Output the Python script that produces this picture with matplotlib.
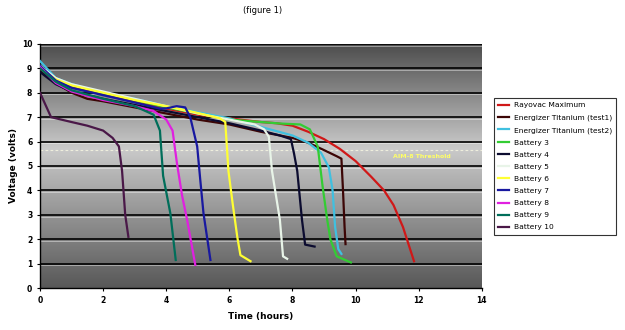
import numpy as np
import matplotlib
matplotlib.use("Agg")
import matplotlib.pyplot as plt
from matplotlib.colors import LinearSegmentedColormap

# --- data (time in hours, voltage in volts) ---
rayovac_t = [0, 0.5, 1, 2, 3, 4, 5, 6, 7, 7.5, 8, 8.5, 9, 9.5, 10, 10.5, 10.9, 11.2, 11.5, 11.85]
rayovac_v = [9.0, 8.5, 8.25, 7.95, 7.65, 7.35, 7.1, 6.95, 6.8, 6.75, 6.65, 6.4, 6.1, 5.7, 5.2, 4.55, 4.0, 3.4, 2.5, 1.1]

ener1_t = [0, 0.5, 1, 1.5, 2, 3, 4, 5, 6, 7, 8, 8.5, 9, 9.4, 9.55, 9.6, 9.65, 9.68]
ener1_v = [8.9, 8.4, 8.0, 7.75, 7.65, 7.4, 7.15, 6.9, 6.7, 6.4, 6.15, 5.95, 5.65, 5.4, 5.3, 4.0, 2.5, 1.8]

ener2_t = [0, 0.5, 1, 2, 3, 4, 5, 6, 7, 8, 8.5, 8.9, 9.15, 9.27, 9.35, 9.45, 9.55]
ener2_v = [9.3, 8.6, 8.35, 8.0, 7.75, 7.45, 7.2, 6.95, 6.6, 6.25, 5.95, 5.55, 4.95, 4.0, 2.5, 1.6, 1.4]

b3_t = [0, 0.5, 1, 2, 3, 4, 5, 6, 7, 7.6, 8.25, 8.55, 8.8, 8.95, 9.1, 9.2, 9.4, 9.85]
b3_v = [9.0, 8.55, 8.3, 8.0, 7.7, 7.4, 7.15, 6.9, 6.8, 6.74, 6.7, 6.5, 5.8, 4.2, 2.8, 2.0, 1.3, 1.05]

b4_t = [0, 0.5, 1, 2, 3, 4, 5, 6, 7, 7.6, 7.95, 8.05, 8.15, 8.3, 8.4, 8.7]
b4_v = [8.85, 8.35, 8.05, 7.75, 7.5, 7.25, 7.0, 6.75, 6.45, 6.25, 6.1, 5.5, 4.8, 2.8, 1.78, 1.7]

b5_t = [0, 0.5, 1, 2, 3, 4, 5, 6, 6.8, 7.1, 7.25, 7.35, 7.6, 7.7, 7.83]
b5_v = [9.1, 8.6, 8.35, 8.05, 7.75, 7.45, 7.15, 6.9, 6.7, 6.5, 6.2, 4.8, 2.8, 1.3, 1.2]

b6_t = [0, 0.5, 1, 2, 3, 4, 4.9, 5.7, 5.87, 5.97, 6.1, 6.25, 6.35, 6.67]
b6_v = [9.0, 8.55, 8.3, 8.0, 7.7, 7.45, 7.2, 6.95, 6.8, 4.8, 3.5, 2.1, 1.35, 1.1]

b7_t = [0, 0.5, 1, 2, 3, 3.8, 4.0, 4.33, 4.6, 4.76, 4.98, 5.08, 5.18, 5.4]
b7_v = [9.1, 8.5, 8.2, 7.9, 7.6, 7.35, 7.36, 7.45, 7.4, 7.0, 5.8, 4.4, 3.06, 1.15]

b8_t = [0, 0.5, 1, 2, 3, 3.6, 4.0, 4.2, 4.34, 4.5, 4.66, 4.92]
b8_v = [9.05, 8.4, 8.05, 7.7, 7.45, 7.25, 6.9, 6.45, 5.1, 3.8, 2.8, 0.95]

b9_t = [0, 0.5, 1, 2, 3, 3.6, 3.8, 3.9, 4.13, 4.3]
b9_v = [9.0, 8.45, 8.1, 7.75, 7.45, 7.1, 6.45, 4.6, 3.06, 1.15]

b10_t = [0, 0.35, 1, 1.5, 2, 2.3, 2.5, 2.6, 2.7, 2.8]
b10_v = [8.0, 7.0, 6.8, 6.65, 6.45, 6.15, 5.8, 4.8, 3.0, 2.1]

labels = ["Rayovac Maximum", "Energizer Titanium (test1)", "Energizer Titanium (test2)",
          "Battery 3", "Battery 4", "Battery 5", "Battery 6", "Battery 7",
          "Battery 8", "Battery 9", "Battery 10"]
series = [(rayovac_t, rayovac_v), (ener1_t, ener1_v), (ener2_t, ener2_v),
          (b3_t, b3_v), (b4_t, b4_v), (b5_t, b5_v), (b6_t, b6_v),
          (b7_t, b7_v), (b8_t, b8_v), (b9_t, b9_v), (b10_t, b10_v)]
colors = ["#d01818", "#3c0606", "#40c0e0", "#33cc33", "#0c0c30", "#e8f4e8",
          "#ffff33", "#1818a0", "#e020e0", "#006e5a", "#4a1848"]

threshold = 5.67
y_ticks = list(range(0, 11))
x_ticks = list(range(0, 15, 2))

fig = plt.figure(figsize=(6.25, 3.3), dpi=100)
ax = fig.add_axes([0.064, 0.127, 0.707, 0.74])

# gradient plot background (dark top/bottom, light band around 5-6 V)
bg = LinearSegmentedColormap.from_list("bg", [(0, "#585858"), (0.57, "#cacaca"), (1, "#4c4c4c")])
grad = np.linspace(0, 1, 256).reshape(-1, 1)
ax.imshow(grad, extent=[0, 14, 0, 10], origin="lower", aspect="auto", cmap=bg, zorder=0)

for yv in y_ticks[1:]:
    ax.axhline(yv, color="black", lw=1.2, zorder=1)
    ax.axhline(yv - 0.07, color="white", lw=0.6, alpha=0.5, zorder=1)

ax.axhline(threshold, color="#eeeedd", lw=0.8, dashes=(2.5, 2), zorder=1)
ax.text(12.1, threshold - 0.28, "AIM-8 Threshold", color="#ffff66", fontsize=4.5,
        fontweight="bold", ha="center", va="center", zorder=2)

for (t, v), lab, c in zip(series, labels, colors):
    ax.plot(t, v, color=c, lw=1.6, label=lab, zorder=3)

ax.set_xlim(0, 14)
ax.set_ylim(0, 10)
ax.set_xticks(x_ticks)
ax.set_yticks(y_ticks)
ax.tick_params(labelsize=5.5, length=2.5, width=0.8, pad=3)
for lab in ax.get_xticklabels() + ax.get_yticklabels():
    lab.set_fontweight("bold")
for s in ["top", "right"]:
    ax.spines[s].set_visible(False)
ax.spines["left"].set_linewidth(1.0)
ax.spines["bottom"].set_linewidth(1.0)

ax.set_xlabel("Time (hours)", fontsize=6.5, fontweight="bold", labelpad=5)
ax.set_ylabel("Voltage (volts)", fontsize=6.5, fontweight="bold", labelpad=3)
fig.text(0.42, 0.967, "(figure 1)", fontsize=6, ha="center", va="center")

leg = fig.legend(loc="upper left", bbox_to_anchor=(0.79, 0.703), fontsize=5.4,
                 frameon=True, fancybox=False, edgecolor="black", handlelength=1.5,
                 handletextpad=0.6, labelspacing=0.78, borderpad=0.55, borderaxespad=0)
leg.get_frame().set_linewidth(0.8)

fig.savefig("out.png", dpi=100)
